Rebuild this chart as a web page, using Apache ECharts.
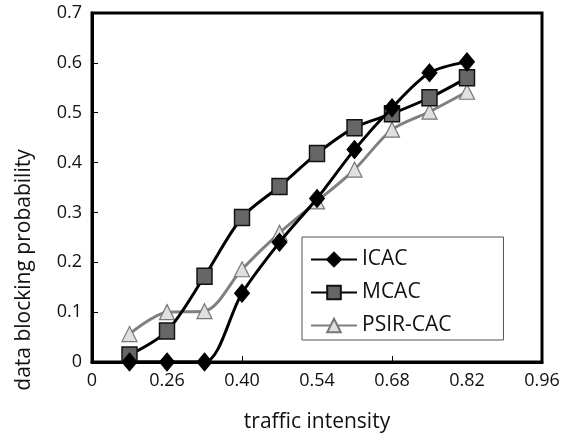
<!DOCTYPE html>
<html>
<head>
<meta charset="utf-8">
<script src="https://cdn.jsdelivr.net/npm/echarts@6/dist/echarts.min.js"></script>
<style>
html,body{margin:0;padding:0;background:#fff;}
#chart{width:576px;height:438px;}
</style>
</head>
<body>
<div id="chart"></div>
<script>
const xValues = [0.19, 0.26, 0.33, 0.40, 0.47, 0.54, 0.61, 0.68, 0.75, 0.82];
const icac = [0.0, 0.0, 0.0, 0.138, 0.24, 0.328, 0.426, 0.51, 0.58, 0.602];
const mcac = [0.014, 0.062, 0.172, 0.29, 0.352, 0.418, 0.47, 0.498, 0.53, 0.57];
const psir = [0.056, 0.1, 0.102, 0.186, 0.259, 0.322, 0.386, 0.466, 0.502, 0.542];
const seriesNames = ['ICAC', 'MCAC', 'PSIR-CAC'];
const xTitle = 'traffic intensity';
const yTitle = 'data blocking probability';

const FONT = '"Open Sans", "DejaVu Sans", sans-serif';
const pairs = arr => xValues.map((x, i) => [x, arr[i]]);

const chart = echarts.init(document.getElementById('chart'), null, {renderer: 'canvas'});
chart.setOption({
  animation: false,
  backgroundColor: '#fff',
  grid: {left: 92, right: 34, top: 13, bottom: 75, show: true, borderColor: '#000', borderWidth: 3},
  legend: {
    orient: 'vertical', left: 302, top: 237,
    data: seriesNames,
    backgroundColor: '#fff', borderColor: '#555', borderWidth: 1,
    padding: [12, 52, 4, 8], itemGap: 12, itemWidth: 46, itemHeight: 17,
    textStyle: {fontFamily: FONT, fontSize: 21, color: '#111'}
  },
  xAxis: [{
    type: 'value', min: 0.12, max: 0.96, interval: 0.14,
    name: xTitle, nameLocation: 'middle', nameGap: 50,
    nameTextStyle: {fontFamily: FONT, fontSize: 21, color: '#111'},
    axisLine: {show: true, lineStyle: {color: '#000', width: 3}},
    axisTick: {show: false},
    splitLine: {show: false},
    axisLabel: {fontFamily: FONT, fontSize: 18, color: '#111', margin: 10,
      formatter: v => (Math.abs(v - 0.12) < 1e-6 ? '0' : v.toFixed(2))}
  }, {
    type: 'value', min: 0.12, max: 0.96, interval: 0.28, position: 'bottom',
    axisLine: {show: false}, axisLabel: {show: false}, splitLine: {show: false},
    axisTick: {show: true, inside: true, length: 6, lineStyle: {color: '#000', width: 1}}
  }],
  yAxis: {
    type: 'value', min: 0, max: 0.7, interval: 0.1,
    axisLine: {show: true, lineStyle: {color: '#000', width: 3}},
    axisTick: {show: true, inside: true, length: 6, lineStyle: {color: '#000', width: 1}},
    splitLine: {show: false},
    axisLabel: {fontFamily: FONT, fontSize: 18, color: '#111', margin: 10,
      formatter: v => (v === 0 ? '0' : v.toFixed(1))}
  },
  graphic: [{
    type: 'text', x: 24, y: 270, rotation: Math.PI / 2,
    style: {text: yTitle, font: '21px ' + FONT, fill: '#111', textAlign: 'center', textVerticalAlign: 'middle'}
  }],
  series: [{
    name: seriesNames[0], type: 'line', data: pairs(icac), smooth: 0.3,
    symbol: 'diamond', symbolSize: [15, 18],
    lineStyle: {color: '#000', width: 3},
    itemStyle: {color: '#000', borderColor: '#000', borderWidth: 1}, z: 4
  }, {
    name: seriesNames[1], type: 'line', data: pairs(mcac), smooth: 0.3,
    symbol: 'rect', symbolSize: [15, 16],
    lineStyle: {color: '#000', width: 3},
    itemStyle: {color: '#666', borderColor: '#111', borderWidth: 1.5}, z: 3
  }, {
    name: seriesNames[2], type: 'line', data: pairs(psir), smooth: 0.3,
    symbol: 'triangle', symbolSize: [15, 15],
    lineStyle: {color: '#808080', width: 3},
    itemStyle: {color: '#e0e0e0', borderColor: '#777', borderWidth: 1.2}, z: 2
  }]
});
</script>
</body>
</html>
